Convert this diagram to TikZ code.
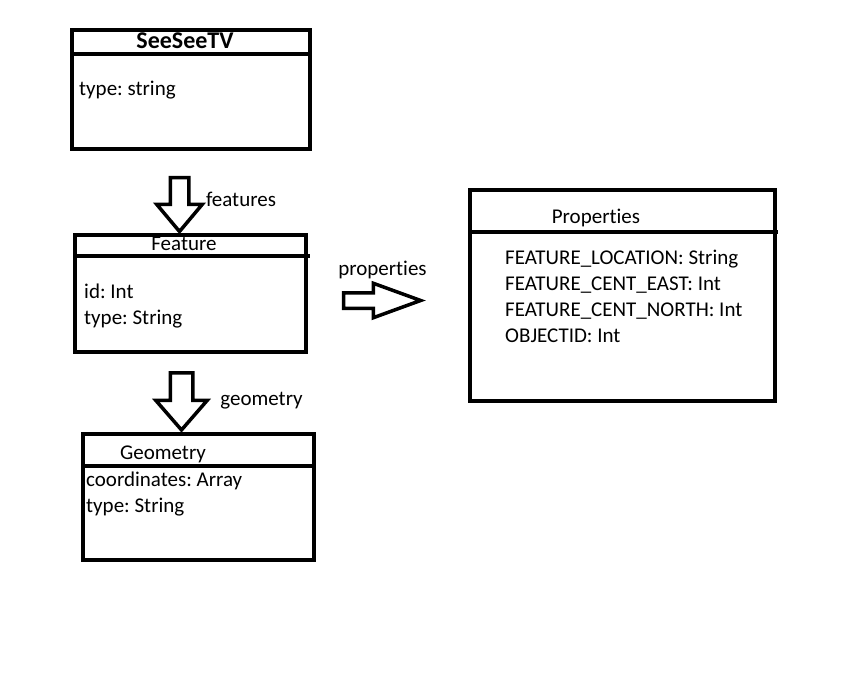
\documentclass[tikz,border=0pt]{standalone}
\usepackage{fontspec}
\setmainfont{Carlito}[Ligatures=NoCommon]
\frenchspacing
\usetikzlibrary{shapes.arrows, positioning, calc}
\tikzset{
	classbox/.style  ={rectangle, draw=black, line width=4.5pt, inner sep=0pt, outer sep=0pt},
	classname/.style ={inner sep=0pt, font=\fontsize{21}{26}\selectfont},
	fieldlist/.style ={inner sep=0pt, align=left, anchor=north west, font=\fontsize{21}{26}\selectfont},
	headrule/.style  ={line width=4.5pt},
	% hollow block arrows between the classes (shaft width = 2 x inner sep)
	blockarrow/.style={single arrow, draw=black, line width=3.5pt, outer sep=0pt},
	arrowtext/.style ={inner sep=0pt, font=\fontsize{21}{26}\selectfont},
}
\begin{document}
\begin{tikzpicture}[x=1pt, y=-1pt, font=\fontsize{21}{26}\selectfont]
	\useasboundingbox (0,0) rectangle (852,674);
	% classes
	\node[classbox, minimum width=238pt, minimum height=119pt] (tv) at (191,89.5) {};
	\node[classbox, minimum width=231pt, minimum height=117pt] (feature) at (190.5,293.5) {};
	\node[classbox, minimum width=231pt, minimum height=126pt] (geometry) at (198.5,497) {};
	\node[classbox, minimum width=305pt, minimum height=211pt] (props) at (622.5,295.5) {};
	\draw[headrule] ([yshift=-24pt]tv.north west) -- ([yshift=-24pt]tv.north east);
	\draw[headrule] ([yshift=-21pt]feature.north west) -- ([xshift=4pt,yshift=-21pt]feature.north east);
	\draw[headrule] ([yshift=-32pt]geometry.north west) -- ([yshift=-32pt]geometry.north east);
	\draw[headrule] ([yshift=-42pt]props.north west) -- ([xshift=3pt,yshift=-42pt]props.north east);
	\node[classname, font=\fontsize{24}{29}\selectfont\bfseries] (tvname) at (185,41) {SeeSeeTV};
	\node[classname] (featurename) at (184,244) {Feature};
	\node[classname] (geometryname) at (163,454) {Geometry};
	\node[classname] (propsname) at (596,218) {Properties};
	\node[fieldlist] (tvfields) at (79,81) {type: string};
	\node[fieldlist] (featurefields) at (84,284) {id: Int\\type: String};
	\node[fieldlist] (geometryfields) at (86,472) {coordinates: Array\\type: String};
	\node[fieldlist] (propsfields) at (505,250) {FEATURE\_LOCATION: String\\FEATURE\_CENT\_EAST: Int\\FEATURE\_CENT\_NORTH: Int\\OBJECTID: Int};
	% relations
	\node[blockarrow, inner sep=7.5pt, minimum height=54pt, single arrow head extend=13.5pt, single arrow tip angle=80, shape border rotate=270] (tofeature) at (179.5,199) {};
	\node[blockarrow, inner sep=9.5pt, minimum height=57pt, single arrow head extend=14.5pt, single arrow tip angle=82, shape border rotate=270] (togeometry) at (181.5,395) {};
	\node[blockarrow, inner sep=6pt, minimum height=77pt, single arrow head extend=9.5pt, single arrow tip angle=40] (toprops) at (371.5,300.5) {};
	\node[arrowtext] (featureslbl) at (241,199) {features};
	\node[arrowtext] (geometrylbl) at (261.5,401) {geometry};
	\node[arrowtext] (propslbl) at (382.5,270) {properties};
\end{tikzpicture}
\end{document}
